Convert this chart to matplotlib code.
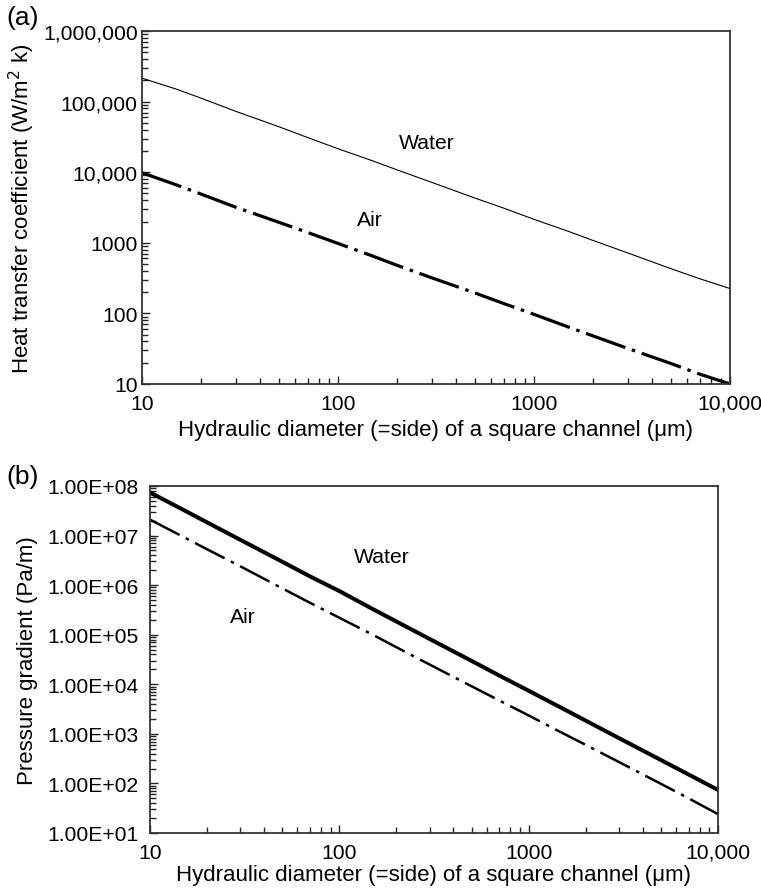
import matplotlib
matplotlib.use("Agg")
import matplotlib.pyplot as plt
from matplotlib.ticker import FixedLocator, LogLocator, NullFormatter

plt.rcParams['font.family'] = ['Liberation Sans', 'DejaVu Sans']
plt.rcParams['lines.scale_dashes'] = False

# diameters (um)
diam = [10, 15, 20, 30, 50, 70, 100, 150, 200, 300, 500, 700,
        1000, 1500, 2000, 3000, 5000, 7000, 10000]

# (a) heat transfer coefficient, W/m2 k
water_h = [215000, 150000, 112000, 73000, 44000, 31000, 21500, 14500, 10800,
           7200, 4300, 3100, 2150, 1450, 1080, 720, 430, 310, 225]
air_h = [9800, 6600, 4900, 3200, 1950, 1400, 980, 650, 480, 320, 195, 138,
         97, 64, 48, 32, 19.5, 13.8, 10]

# (b) pressure gradient, Pa/m
water_dp = [7.4e7, 3.3e7, 1.85e7, 8.2e6, 2.96e6, 1.5e6, 7.6e5, 3.3e5, 1.85e5,
            8.2e4, 2.96e4, 1.5e4, 7400, 3300, 1850, 820, 296, 151, 74]
air_dp = [2.1e7, 9.4e6, 5.3e6, 2.4e6, 8.6e5, 4.4e5, 2.2e5, 1.0e5, 5.6e4,
          2.5e4, 9100, 4700, 2350, 1050, 600, 270, 98, 50, 24]

x_ticks = [10, 100, 1000, 10000]
x_labels = ['10', '100', '1000', '10,000']
ya_ticks = [10, 100, 1000, 1e4, 1e5, 1e6]
ya_labels = ['10', '100', '1000', '10,000', '100,000', '1,000,000']
yb_ticks = [1e1, 1e2, 1e3, 1e4, 1e5, 1e6, 1e7, 1e8]
yb_labels = ['1.00E+01', '1.00E+02', '1.00E+03', '1.00E+04',
             '1.00E+05', '1.00E+06', '1.00E+07', '1.00E+08']

fs = 15.2
fl = 16
xlab = 'Hydraulic diameter (=side) of a square channel (\u03bcm)'

fig = plt.figure(figsize=(7.61, 8.95), dpi=100)
ax1 = fig.add_axes([142/761, 1-385/895, 588/761, 353/895])
ax2 = fig.add_axes([150/761, 1-834/895, 568/761, 347/895])


def style(ax, yt, yl):
    ax.set_xscale('log')
    ax.set_yscale('log')
    ax.set_xlim(10, 10000)
    ax.set_ylim(yt[0], yt[-1])
    ax.xaxis.set_major_locator(FixedLocator(x_ticks))
    ax.set_xticklabels(x_labels)
    ax.xaxis.set_minor_locator(LogLocator(base=10, subs=range(2, 10)))
    ax.xaxis.set_minor_formatter(NullFormatter())
    ax.yaxis.set_major_locator(FixedLocator(yt))
    ax.set_yticklabels(yl)
    ax.yaxis.set_minor_locator(LogLocator(base=10, subs=range(2, 10), numticks=20))
    ax.yaxis.set_minor_formatter(NullFormatter())
    ax.tick_params(which='both', direction='in', top=False, right=False,
                   labelsize=fs, color='#222222', width=1.0)
    ax.tick_params(which='major', length=6)
    ax.tick_params(which='minor', length=4)
    for s in ax.spines.values():
        s.set_color('#333333')
        s.set_linewidth(1.3)


style(ax1, ya_ticks, ya_labels)
ax1.tick_params(axis='y', pad=3)
ax1.tick_params(axis='x', pad=7)
ax1.plot(diam, water_h, color='black', lw=0.8)
ax1.plot(diam, air_h, color='black', lw=2.3, dashes=(30, 5, 2.5, 5),
         dash_capstyle='butt')
ax1.text(0.485, 0.685, 'Water', transform=ax1.transAxes, fontsize=fs, ha='center', va='center')
ax1.text(0.388, 0.465, 'Air', transform=ax1.transAxes, fontsize=fs, ha='center', va='center')
ax1.set_xlabel(xlab, fontsize=fl)
ax1.xaxis.set_label_coords(0.5, -0.1)
ax1.set_ylabel('Heat transfer coefficient (W/m$^2$ k)', fontsize=fl)
ax1.yaxis.set_label_coords(-0.178, 0.5)

style(ax2, yb_ticks, yb_labels)
ax2.tick_params(axis='y', pad=8)
ax2.tick_params(axis='x', pad=7)
ax2.plot(diam, water_dp, color='black', lw=2.9)
ax2.plot(diam, air_dp, color='black', lw=1.8, dashes=(24, 5, 2.5, 5),
         dash_capstyle='butt')
ax2.text(0.408, 0.797, 'Water', transform=ax2.transAxes, fontsize=fs, ha='center', va='center')
ax2.text(0.164, 0.625, 'Air', transform=ax2.transAxes, fontsize=fs, ha='center', va='center')
ax2.set_xlabel(xlab, fontsize=fl)
ax2.xaxis.set_label_coords(0.5, -0.09)
ax2.set_ylabel('Pressure gradient (Pa/m)', fontsize=fl)
ax2.yaxis.set_label_coords(-0.198, 0.5)

fig.text(6/761, 1-18/895, '(a)', fontsize=19, ha='left', va='center')
fig.text(6/761, 1-477/895, '(b)', fontsize=19, ha='left', va='center')

fig.savefig('out.png', dpi=100)
